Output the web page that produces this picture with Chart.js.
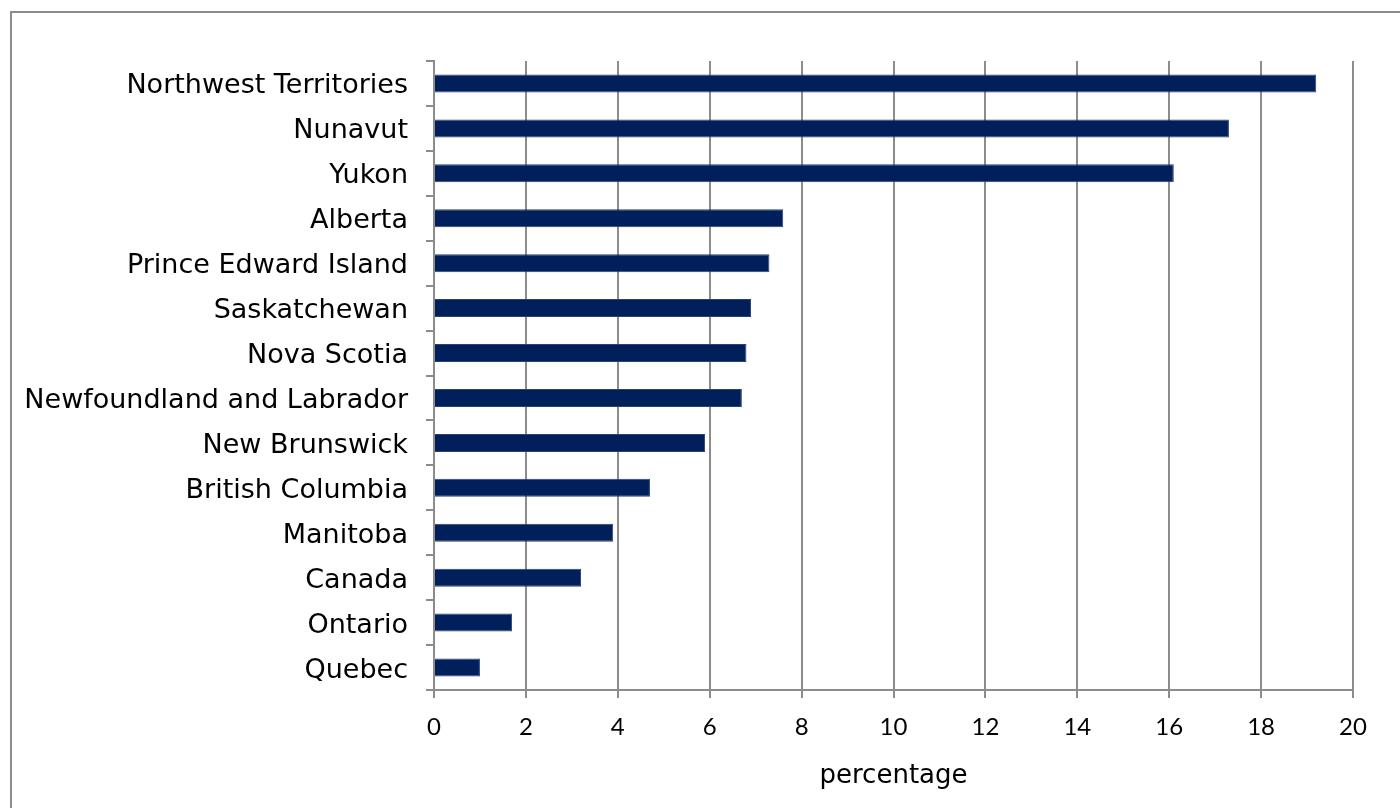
<!DOCTYPE html>
<html>
<head>
<meta charset="utf-8">
<script src="https://cdn.jsdelivr.net/npm/chart.js@4/dist/chart.umd.min.js"></script>
<style>
    html, body { margin: 0; padding: 0; background: #fff; overflow: hidden; }
    #frame {
        position: absolute; left: 10px; top: 11px;
        width: 1400px; height: 820px;
        border: 2px solid #8c8c8c;
    }
    #wrap { position: absolute; left: 0; top: 0; width: 1400px; height: 808px; }
</style>
</head>
<body>
<div id="frame"></div>
<div id="wrap"><canvas id="barChart"></canvas></div>
<script>
// Catégories (de haut en bas) et valeurs en pourcentage
const regions = [
    'Northwest Territories', 'Nunavut', 'Yukon', 'Alberta',
    'Prince Edward Island', 'Saskatchewan', 'Nova Scotia',
    'Newfoundland and Labrador', 'New Brunswick', 'British Columbia',
    'Manitoba', 'Canada', 'Ontario', 'Quebec'
];
const percentages = [19.2, 17.3, 16.1, 7.6, 7.3, 6.9, 6.8, 6.7, 5.9, 4.7, 3.9, 3.2, 1.7, 1.0];
const xTicks = [0, 2, 4, 6, 8, 10, 12, 14, 16, 18, 20];

const axisGray = '#8c8c8c';

const ctx = document.getElementById('barChart');
new Chart(ctx.getContext('2d'), {
    type: 'bar',
    data: {
        labels: regions,
        datasets: [{
            label: 'percentage',
            data: percentages,
            backgroundColor: '#001f5b',
            borderColor: '#2a4176',
            borderWidth: 1,
            borderSkipped: 'left',
            barPercentage: 0.8,
            categoryPercentage: 0.5
        }]
    },
    options: {
        indexAxis: 'y',
        responsive: true,
        maintainAspectRatio: false,
        animation: false,
        layout: {
            padding: { top: 61, right: 47, bottom: 0, left: 0 }
        },
        plugins: {
            legend: { display: false },
            tooltip: { enabled: false }
        },
        scales: {
            x: {
                min: 0,
                max: 20,
                afterBuildTicks: scale => {
                    scale.ticks = xTicks.map(v => ({ value: v }));
                },
                afterFit: scale => { scale.height = 118; },
                grid: {
                    color: axisGray,
                    lineWidth: 2,
                    tickLength: 8
                },
                border: { color: axisGray, width: 2 },
                ticks: {
                    color: '#000',
                    padding: 15,
                    font: { family: 'Lato, sans-serif', size: 24 }
                },
                title: {
                    display: true,
                    text: 'percentage',
                    color: '#000',
                    padding: { top: 0, bottom: 16 },
                    font: { family: 'DejaVu Sans', size: 26 }
                }
            },
            y: {
                afterFit: scale => { scale.width = 434; },
                grid: {
                    offset: true,
                    drawOnChartArea: false,
                    color: axisGray,
                    lineWidth: 2,
                    tickLength: 8
                },
                border: { color: axisGray, width: 2 },
                ticks: {
                    color: '#000',
                    padding: 18,
                    labelOffset: 3,
                    autoSkip: false,
                    font: { family: 'DejaVu Sans', size: 27 }
                }
            }
        }
    }
});
</script>
</body>
</html>
